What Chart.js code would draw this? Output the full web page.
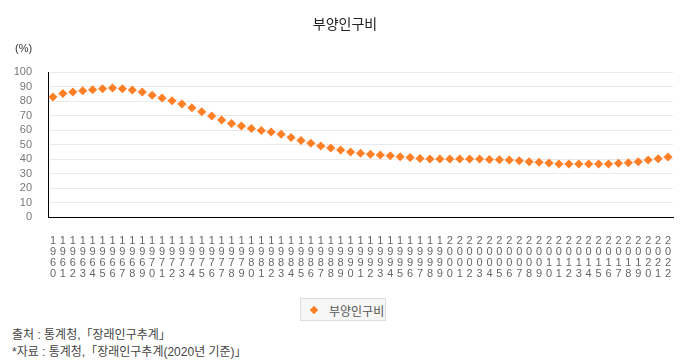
<!DOCTYPE html>
<html>
<head>
<meta charset="utf-8">
<script src="https://cdn.jsdelivr.net/npm/chart.js@4"></script>
<style>
  body { margin: 0; background: #fff; font-family: 'Liberation Sans', 'Noto Sans CJK KR', sans-serif; }
  #wrap { position: relative; width: 690px; height: 360px; }
  #chartBox { position: absolute; left: 0; top: 0; width: 690px; height: 290px; }
  .title { position: absolute; left: 0; width: 690px; top: 13px; text-align: center; font-size: 14px; color: #222; }
  .unit { position: absolute; left: 15px; top: 42px; font-size: 11px; color: #333; }
  .legend { position: absolute; left: 300px; top: 298px; width: 86px; height: 23px; border: 1px solid #ddd; background: #f6f6f6; font-size: 12px; color: #555; box-sizing: border-box; }
  .legend .mark { position: absolute; left: 10px; top: 8px; width: 6px; height: 6px; background: #ff7f27; transform: rotate(45deg); }
  .legend .txt { position: absolute; left: 28px; top: 3px; }
  .src { position: absolute; left: 12px; font-size: 12px; color: #444; }
</style>
</head>
<body>
<div id="wrap">
  <div id="chartBox"><canvas id="chart"></canvas></div>
  <div class="title">부양인구비</div>
  <div class="unit">(%)</div>
  <div class="legend"><span class="mark"></span><span class="txt">부양인구비</span></div>
  <div class="src" style="top:325px">출처 : 통계청,「장래인구추계」</div>
  <div class="src" style="top:342px">*자료 : 통계청,「장래인구추계(2020년 기준)」</div>
</div>
<script>
const years = [];
for (let y = 1960; y <= 2022; y++) years.push(String(y));

const dependencyRatio = [
  82.8, 85.1, 86.2, 87.1, 87.8, 88.5, 89.0, 88.5, 87.6, 86.2,
  83.9, 82.1, 80.2, 77.9, 75.4, 72.6, 69.7, 66.9, 64.5, 62.8,
  61.1, 59.7, 58.6, 57.0, 54.9, 52.8, 50.8, 49.0, 47.6, 46.2,
  44.8, 43.9, 43.2, 42.8, 42.3, 41.6, 41.1, 40.4, 40.0, 40.0,
  40.0, 40.0, 40.0, 40.0, 39.7, 39.5, 39.3, 38.8, 38.1, 37.7,
  37.2, 36.5, 36.5, 36.5, 36.5, 36.5, 36.5, 37.0, 37.4, 38.1,
  39.3, 40.2, 41.4
];

const yMin = 0, yMax = 100, yStep = 10;

new Chart(document.getElementById('chart'), {
  type: 'line',
  data: {
    labels: years.map(y => y.split('')),
    datasets: [{
      label: '부양인구비',
      data: dependencyRatio,
      borderColor: 'rgba(255,127,39,0.12)',
      borderWidth: 2,
      backgroundColor: '#ff7f27',
      pointStyle: 'rectRot',
      pointRadius: 4.5,
      pointBorderWidth: 0,
      pointBackgroundColor: '#ff7f27',
      tension: 0
    }]
  },
  options: {
    responsive: true,
    maintainAspectRatio: false,
    animation: false,
    layout: { padding: { top: 72, right: 17, left: 0, bottom: 0 } },
    plugins: {
      legend: { display: false },
      title: { display: false },
      tooltip: { enabled: false }
    },
    scales: {
      x: {
        offset: true,
        grid: { display: false },
        border: { color: '#000', width: 1 },
        ticks: {
          autoSkip: false,
          maxRotation: 0,
          minRotation: 0,
          padding: 10,
          color: '#666',
          font: { family: "'Liberation Sans', sans-serif", size: 11, lineHeight: 1.0 }
        },
        afterFit: s => { s.height = 73; }
      },
      y: {
        min: yMin,
        max: yMax,
        grid: { color: '#e9e9e9', drawTicks: false },
        border: { color: '#000', width: 1 },
        ticks: {
          stepSize: yStep,
          autoSkip: false,
          padding: 16,
          color: '#777',
          font: { family: "'Liberation Sans', sans-serif", size: 11 }
        },
        afterFit: s => { s.width = 48; }
      }
    }
  }
});
</script>
</body>
</html>
